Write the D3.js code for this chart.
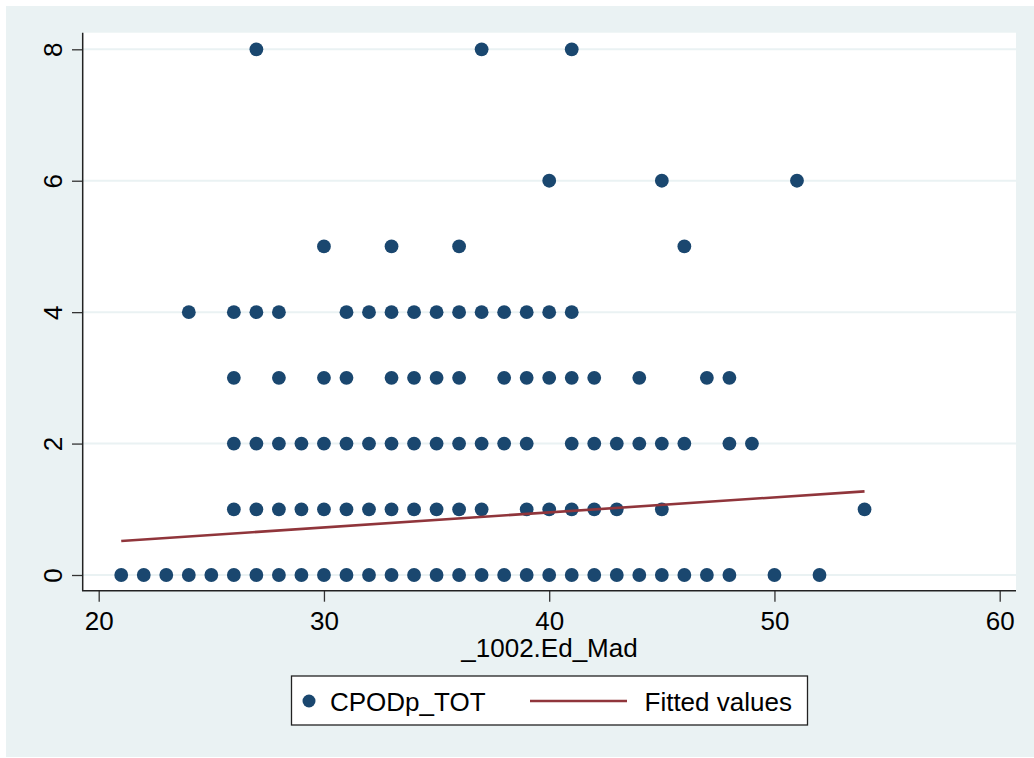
<!DOCTYPE html>
<html>
<head>
<meta charset="utf-8">
<script src="https://cdn.jsdelivr.net/npm/d3@7"></script>
<style>
  html, body { margin: 0; padding: 0; background: #fff; }
  svg { display: block; font-family: "Liberation Sans", Arial, sans-serif; }
</style>
</head>
<body>
<svg id="chart"></svg>
<script>
// x values of CPODp_TOT points, one array per y level
const cpodAt0 = [21, 22, 23, 24, 25, 26, 27, 28, 29, 30, 31, 32, 33, 34, 35, 36, 37, 38, 39, 40,
  41, 42, 43, 44, 45, 46, 47, 48, 50, 52];
const cpodAt1 = [26, 27, 28, 29, 30, 31, 32, 33, 34, 35, 36, 37, 39, 40, 41, 42, 43, 45, 54];
const cpodAt2 = [26, 27, 28, 29, 30, 31, 32, 33, 34, 35, 36, 37, 38, 39, 41, 42, 43, 44, 45, 46, 48, 49];
const cpodAt3 = [26, 28, 30, 31, 33, 34, 35, 36, 38, 39, 40, 41, 42, 44, 47, 48];
const cpodAt4 = [24, 26, 27, 28, 31, 32, 33, 34, 35, 36, 37, 38, 39, 40, 41];
const cpodAt5 = [30, 33, 36, 46];
const cpodAt6 = [40, 45, 51];
const cpodAt8 = [27, 37, 41];

const levels = [0, 1, 2, 3, 4, 5, 6, 8];
const rows = [cpodAt0, cpodAt1, cpodAt2, cpodAt3, cpodAt4, cpodAt5, cpodAt6, cpodAt8];

// fitted line endpoints
const fitX = [21, 54];
const fitY = [0.517, 1.273];

const xTicks = [20, 30, 40, 50, 60];
const yTicks = [0, 2, 4, 6, 8];

const width = 1034;
const height = 758;

const bg = '#eaf2f3';
const navy = '#1a476f';
const maroon = '#90353b';
const fontSize = '26px';

const plot = { left: 82.7, right: 1016, top: 32.7, bottom: 590.7 };

const points = [];
rows.forEach((xs, i) => xs.forEach(x => points.push({ x: x, y: levels[i] })));

const svg = d3.select('#chart')
  .attr('width', width)
  .attr('height', height);

svg.append('rect')
  .attr('x', 6).attr('y', 6)
  .attr('width', width - 6).attr('height', 751)
  .attr('fill', bg);

svg.append('rect')
  .attr('x', plot.left).attr('y', plot.top)
  .attr('width', plot.right - plot.left).attr('height', plot.bottom - plot.top)
  .attr('fill', '#fff');

const x = d3.scaleLinear().domain([20, 60]).range([98.7, 999.7]);
const y = d3.scaleLinear().domain([0, 8]).range([575, 49.3]);

// gridlines
svg.append('g')
  .selectAll('line')
  .data(yTicks)
  .enter().append('line')
    .attr('x1', plot.left).attr('x2', plot.right)
    .attr('y1', d => y(d)).attr('y2', d => y(d))
    .attr('stroke', bg)
    .attr('stroke-width', 2);

// points
svg.append('g')
  .selectAll('circle')
  .data(points)
  .enter().append('circle')
    .attr('cx', d => x(d.x))
    .attr('cy', d => y(d.y))
    .attr('r', 6.9)
    .attr('fill', navy);

// fitted values
svg.append('path')
  .datum(fitX.map((d, i) => [d, fitY[i]]))
  .attr('d', d3.line().x(d => x(d[0])).y(d => y(d[1])))
  .attr('fill', 'none')
  .attr('stroke', maroon)
  .attr('stroke-width', 2.6);

// axes
const yAxis = svg.append('g')
  .attr('transform', 'translate(' + plot.left + ',0)')
  .call(d3.axisLeft(y).tickValues(yTicks).tickSize(10.7).tickFormat(d3.format('d')));
yAxis.select('.domain').remove();
yAxis.selectAll('.tick line').attr('stroke', '#333').attr('stroke-width', 1.3);
yAxis.selectAll('.tick text')
  .attr('x', 0).attr('dy', 0)
  .attr('text-anchor', 'middle')
  .attr('transform', 'translate(-21,0) rotate(-90)')
  .attr('fill', '#000')
  .style('font-size', fontSize)
  .style('font-family', '"Liberation Sans", Arial, sans-serif');

const xAxis = svg.append('g')
  .attr('transform', 'translate(0,' + plot.bottom + ')')
  .call(d3.axisBottom(x).tickValues(xTicks).tickSize(11).tickFormat(d3.format('d')));
xAxis.select('.domain').remove();
xAxis.selectAll('.tick line').attr('stroke', '#333').attr('stroke-width', 1.3);
xAxis.selectAll('.tick text')
  .attr('y', 39.5).attr('dy', 0)
  .attr('fill', '#000')
  .style('font-size', fontSize)
  .style('font-family', '"Liberation Sans", Arial, sans-serif');

svg.append('path')
  .attr('d', 'M' + plot.left + ',' + plot.top + 'V' + plot.bottom + 'H' + plot.right)
  .attr('fill', 'none')
  .attr('stroke', '#222')
  .attr('stroke-width', 1.5);

svg.append('text')
  .attr('x', 549.5)
  .attr('y', 656.5)
  .attr('text-anchor', 'middle')
  .style('font-size', fontSize)
  .text('_1002.Ed_Mad');

// legend
const legend = svg.append('g');
legend.append('rect')
  .attr('x', 291.5).attr('y', 676)
  .attr('width', 516).attr('height', 49)
  .attr('fill', '#fff')
  .attr('stroke', '#222')
  .attr('stroke-width', 1.3);
legend.append('circle')
  .attr('cx', 309).attr('cy', 701)
  .attr('r', 6.5)
  .attr('fill', navy);
legend.append('text')
  .attr('x', 330).attr('y', 710.5)
  .style('font-size', fontSize)
  .text('CPODp_TOT');
legend.append('line')
  .attr('x1', 530).attr('x2', 627)
  .attr('y1', 701).attr('y2', 701)
  .attr('stroke', maroon)
  .attr('stroke-width', 2.6);
legend.append('text')
  .attr('x', 644.5).attr('y', 710.5)
  .style('font-size', fontSize)
  .text('Fitted values');
</script>
</body>
</html>
